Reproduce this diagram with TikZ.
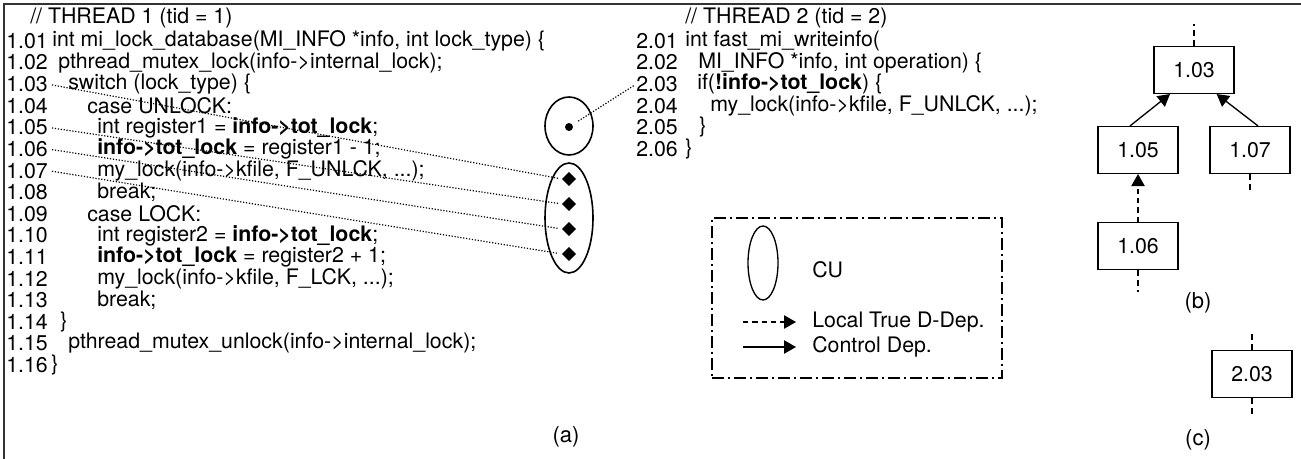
\documentclass[tikz,border=0pt]{standalone}
\usepackage{fontspec}
\setmainfont{TeX Gyre Heros}
\usetikzlibrary{arrows.meta,shapes.geometric}

\tikzset{
  code/.style={anchor=west, inner sep=0pt, font=\fontsize{16}{18}\selectfont},
  plain/.style={inner sep=0pt, font=\fontsize{16.5}{18}\selectfont},
  cu/.style={draw, ellipse, line width=1.2pt, inner sep=0pt},
  stmt/.style={draw, diamond, fill=black, inner sep=0pt, minimum size=10pt},
  bnode/.style={draw, rectangle, line width=1.1pt, minimum width=60pt,
    minimum height=35pt, font=\fontsize{16}{18}\selectfont},
  link/.style={line width=0.9pt, dash pattern=on 0.9pt off 1.3pt},
  ctrl/.style={line width=1pt, -{Triangle[length=9pt,width=10pt]}},
  ddep/.style={ctrl, dash pattern=on 4pt off 3pt},
  stub/.style={line width=1pt, dash pattern=on 4.5pt off 3pt},
  legbox/.style={draw, rectangle, line width=1.1pt,
    dash pattern=on 9pt off 3pt on 1.5pt off 3pt},
}

\begin{document}
\begin{tikzpicture}[x=0.75pt,y=-0.75pt]
\useasboundingbox (0,0) rectangle (1301,459);
\draw[line width=1.6pt, black!80] (4,459) -- (4,4) -- (1301,4);

% thread 1
\node[code] (t1) at (30,18) {// THREAD 1 (tid = 1)};
\foreach \n/\dx/\txt [count=\k] in {
  01/52/{int mi\_lock\_database(MI\_INFO *info, int lock\_type) \{},
  02/58/{pthread\_mutex\_lock(info->internal\_lock);},
  03/68/{switch (lock\_type) \{},
  04/87/{case UNLOCK:},
  05/97/{int register1 = \textbf{info->tot\_lock};},
  06/97/{\textbf{info->tot\_lock} = register1 - 1;},
  07/97/{my\_lock(info->kfile, F\_UNLCK, ...);},
  08/97/{break;},
  09/87/{case LOCK:},
  10/97/{int register2 = \textbf{info->tot\_lock};},
  11/97/{\textbf{info->tot\_lock} = register2 + 1;},
  12/97/{my\_lock(info->kfile, F\_LCK, ...);},
  13/97/{break;},
  14/60/{\}},
  15/68/{pthread\_mutex\_unlock(info->internal\_lock);},
  16/51/{\}}}{
  \node[code] (n1\n) at (6,{41+(\k-1)*21.6}) {1.\n};
  \node[code] (c1\n) at (\dx,{41+(\k-1)*21.6}) {\txt};
}

% thread 2
\node[code] (t2) at (685,18) {// THREAD 2 (tid = 2)};
\foreach \n/\dx/\txt [count=\k] in {
  01/685/{int fast\_mi\_writeinfo(},
  02/698/{MI\_INFO *info, int operation) \{},
  03/697/{if(\textbf{!info->tot\_lock}) \{},
  04/710/{my\_lock(info->kfile, F\_UNLCK, ...);},
  05/699/{\}},
  06/685/{\}}}{
  \node[code] (n2\n) at (636,{41+(\k-1)*21.6}) {2.\n};
  \node[code] (c2\n) at (\dx,{41+(\k-1)*21.6}) {\txt};
}

% CUs
\node[cu, minimum width=36pt, minimum height=43.5pt] (cuT) at (569,126) {};
\node[cu, minimum width=36pt, minimum height=82.5pt] (cuB) at (569,218) {};
\node[circle, fill=black, inner sep=0pt, minimum size=6pt] (dotT) at (569,127) {};
\foreach \i/\y in {1/179,2/204,3/229,4/254}
  \node[stmt] (d\i) at (569,\y) {};

\draw[link, shorten <=3pt, shorten >=3pt] (n103.east) -- (d1.west);
\draw[link, shorten <=3pt, shorten >=3pt] (n105.east) -- (d2.west);
\draw[link, shorten <=3pt, shorten >=3pt] (n106.east) -- (d3.west);
\draw[link, shorten <=3pt, shorten >=3pt] (n107.east) -- (d4.west);
\draw[link, shorten <=5pt, shorten >=1pt] (dotT) -- (n203.west);

\node[plain] (la) at (566,437) {(a)};

% legend
\node[legbox, minimum width=217.5pt, minimum height=120pt] (leg) at (857,298) {};
\node[cu, line width=1pt, minimum width=22.5pt, minimum height=55.5pt] (legcu) at (763,263) {};
\node[code] (legcutxt) at (812,270) {CU};
\coordinate (ldA) at (743,322);
\coordinate (ldB) at (796,322);
\coordinate (lcA) at (743,347);
\coordinate (lcB) at (796,347);
\draw[ddep] (ldA) -- (ldB);
\draw[ctrl] (lcA) -- (lcB);
\node[code] (legdd) at (812,322) {Local True D-Dep.};
\node[code] (legcd) at (812,347) {Control Dep.};

% graph (b)
\node[bnode] (b103) at (1194,70) {1.03};
\node[bnode] (b105) at (1138,150) {1.05};
\node[bnode] (b107) at (1250,150) {1.07};
\node[bnode] (b106) at (1138,246) {1.06};
\draw[ctrl] ([xshift=-6pt]b105.north) -- ([xshift=-18pt]b103.south);
\draw[ctrl] ([xshift=6pt]b107.north) -- ([xshift=17pt]b103.south);
\draw[ddep] (b106.north) -- (b105.south);
\draw[stub] (b103.north) -- +(0,-22);
\draw[stub] (b107.south) -- +(0,20);
\draw[stub] (b106.south) -- +(0,22);
\node[plain] (lb) at (1198,303) {(b)};

% graph (c)
\node[bnode] (c203) at (1252,374) {2.03};
\draw[stub] (c203.north) -- +(0,-20);
\draw[stub] (c203.south) -- +(0,20);
\node[plain] (lc) at (1198,440) {(c)};
\end{tikzpicture}
\end{document}
